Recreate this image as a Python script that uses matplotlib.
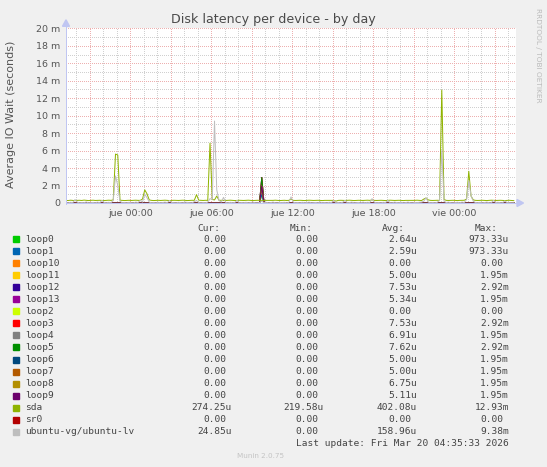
import numpy as np
import matplotlib
matplotlib.use("Agg")
import matplotlib.pyplot as plt
from matplotlib.patches import Rectangle, Polygon

# ---------------- data ----------------
title = "Disk latency per device - by day"
ylabel = "Average IO Wait (seconds)"
side_text = "RRDTOOL / TOBI OETIKER"
last_update = "Last update: Fri Mar 20 04:35:33 2026"
footer = "Munin 2.0.75"

# time axis in hours relative to Thu 00:00
t_start = -4.75          # Wed 19:15
t_end = 28.58            # Fri 04:35
sample_step_h = 1.0 / 6  # 10-minute samples
tick_hours = [0, 6, 12, 18, 24]
tick_labels = ["jue 00:00", "jue 06:00", "jue 12:00", "jue 18:00", "vie 00:00"]
ytick_vals = [0, 2, 4, 6, 8, 10, 12, 14, 16, 18, 20]
ytick_labels = ["0", "2 m", "4 m", "6 m", "8 m", "10 m", "12 m", "14 m", "16 m", "18 m", "20 m"]

# values in milliseconds
sda = [
    0.30, 0.28, 0.32, 0.30, 0.27, 0.30, 0.31, 0.29, 0.33, 0.30, 0.28, 0.30, 0.32, 0.29, 0.30, 0.31, 0.30, 0.28, 0.30, 0.32,
    0.30, 0.35, 5.60, 5.50, 0.32, 0.30, 0.28, 0.30, 0.31, 0.29, 0.30, 0.32, 0.30, 0.30, 0.45, 1.50, 1.05, 0.35, 0.30, 0.28,
    0.30, 0.31, 0.29, 0.30, 0.32, 0.30, 0.28, 0.30, 0.31, 0.30, 0.29, 0.30, 0.32, 0.30, 0.28, 0.30, 0.31, 0.30, 0.95, 0.32,
    0.30, 0.29, 0.31, 0.30, 6.85, 0.40, 0.35, 0.80, 0.30, 0.31, 0.30, 0.29, 0.30, 0.32, 0.30, 0.28, 0.30, 0.31, 0.30, 0.29,
    0.30, 0.32, 0.30, 0.28, 0.30, 0.31, 0.30, 0.30, 0.30, 0.29, 0.30, 0.31, 0.30, 0.32, 0.30, 0.28, 0.30, 0.31, 0.29, 0.30,
    0.45, 0.30, 0.29, 0.30, 0.31, 0.30, 0.28, 0.30, 0.32, 0.30, 0.29, 0.30, 0.31, 0.30, 0.28, 0.30, 0.30, 0.31, 0.29, 0.30,
    0.22, 0.30, 0.31, 0.30, 0.29, 0.30, 0.32, 0.30, 0.28, 0.30, 0.31, 0.30, 0.29, 0.30, 0.32, 0.30, 0.35, 0.30, 0.29, 0.30,
    0.31, 0.30, 0.28, 0.30, 0.32, 0.30, 0.29, 0.30, 0.31, 0.30, 0.28, 0.30, 0.30, 0.31, 0.29, 0.30, 0.32, 0.30, 0.28, 0.45,
    0.57, 0.35, 0.30, 0.29, 0.30, 0.31, 0.30, 12.93, 0.40, 0.30, 0.29, 0.30, 0.31, 0.30, 0.28, 0.30, 0.30, 0.31, 0.45, 3.63,
    0.80, 0.35, 0.30, 0.29, 0.30, 0.31, 0.30, 0.28, 0.30, 0.32, 0.30, 0.29, 0.30, 0.31, 0.30, 0.28, 0.30, 0.31, 0.29, 0.27,
]
ubuntu_lv = [
    0.05, 0.02, 0.08, 0.03, 0.40, 0.10, 0.02, 0.05, 0.03, 0.12, 0.02, 0.04, 0.06, 0.02, 0.10, 0.03, 0.30, 0.05, 0.02, 0.08,
    0.03, 0.30, 3.10, 2.00, 0.20, 0.03, 0.05, 0.02, 0.08, 0.03, 0.02, 0.10, 0.05, 0.30, 0.10, 1.00, 0.60, 0.10, 0.03, 0.05,
    0.02, 0.08, 0.03, 0.05, 0.10, 0.02, 0.30, 0.05, 0.03, 0.02, 0.08, 0.04, 0.02, 0.10, 0.05, 0.03, 0.02, 0.15, 0.30, 0.05,
    0.02, 0.05, 0.03, 0.10, 0.50, 0.40, 9.38, 1.50, 0.30, 0.10, 0.65, 0.05, 0.02, 0.08, 0.03, 0.05, 0.30, 0.02, 0.05, 0.03,
    0.08, 0.02, 0.05, 0.10, 0.03, 0.02, 0.05, 0.20, 0.03, 0.08, 0.02, 0.05, 0.10, 0.03, 0.02, 0.06, 0.04, 0.08, 0.02, 0.05,
    0.70, 0.10, 0.03, 0.05, 0.02, 0.08, 0.03, 0.05, 0.10, 0.02, 0.04, 0.06, 0.02, 0.10, 0.03, 0.05, 0.02, 0.08, 0.05, 0.30,
    0.03, 0.05, 0.02, 0.08, 0.30, 0.03, 0.05, 0.10, 0.02, 0.04, 0.06, 0.02, 0.10, 0.03, 0.08, 0.05, 0.50, 0.10, 0.03, 0.05,
    0.02, 0.08, 0.05, 0.30, 0.03, 0.02, 0.10, 0.05, 0.03, 0.08, 0.02, 0.05, 0.10, 0.03, 0.02, 0.06, 0.04, 0.08, 0.10, 0.20,
    0.60, 0.10, 0.03, 0.05, 0.02, 0.08, 0.30, 6.00, 0.20, 0.05, 0.10, 0.03, 0.02, 0.05, 0.08, 0.03, 0.10, 0.05, 0.40, 2.56,
    0.84, 0.20, 0.05, 0.03, 0.08, 0.02, 0.05, 0.10, 0.03, 0.02, 0.30, 0.05, 0.08, 0.03, 0.02, 0.25, 0.05, 0.03, 0.02, 0.025,
]

# loop devices / sr0: zero except one sample (ms) at the spike sample
loop_spike_sample = 87
series_names = ["loop0", "loop1", "loop10", "loop11", "loop12", "loop13", "loop2", "loop3",
                "loop4", "loop5", "loop6", "loop7", "loop8", "loop9", "sda", "sr0", "ubuntu-vg/ubuntu-lv"]
series_colors = ["#00CC00", "#0066B3", "#FF8000", "#FFCC00", "#330099", "#990099", "#CCFF00", "#FF0000",
                 "#808080", "#008F00", "#00487D", "#B35A00", "#B38F00", "#6B006B", "#8FB300", "#B30000", "#BEBEBE"]
spike_values = {"loop0": 0.973, "loop1": 0.973, "loop10": 0.0, "loop11": 1.95, "loop12": 2.92,
                "loop13": 1.95, "loop2": 0.0, "loop3": 2.92, "loop4": 1.95, "loop5": 2.92,
                "loop6": 1.95, "loop7": 1.95, "loop8": 1.95, "loop9": 1.95, "sr0": 0.0}

cur_vals = ["0.00", "0.00", "0.00", "0.00", "0.00", "0.00", "0.00", "0.00", "0.00", "0.00", "0.00", "0.00",
            "0.00", "0.00", "274.25u", "0.00", "24.85u"]
min_vals = ["0.00"] * 14 + ["219.58u", "0.00", "0.00"]
avg_vals = ["2.64u", "2.59u", "0.00", "5.00u", "7.53u", "5.34u", "0.00", "7.53u", "6.91u", "7.62u", "5.00u",
            "5.00u", "6.75u", "5.11u", "402.08u", "0.00", "158.96u"]
max_vals = ["973.33u", "973.33u", "0.00", "1.95m", "2.92m", "1.95m", "0.00", "2.92m", "1.95m", "2.92m", "1.95m",
            "1.95m", "1.95m", "1.95m", "12.93m", "0.00", "9.38m"]

# ---------------- figure ----------------
W, H = 547, 467
DPI = 100
fig = plt.figure(figsize=(W / DPI, H / DPI), dpi=DPI, facecolor="#F0F0F0")


def fx(x):
    return x / W


def fy(y):
    return 1 - y / H


L, R, T, B = 66, 516, 28.3, 203
ax = fig.add_axes([fx(L), fy(B), (R - L) / W, (B - T) / H])
ax.set_facecolor("white")
ax.set_xlim(t_start, t_end)
ax.set_ylim(0, 20)
for s in ax.spines.values():
    s.set_visible(False)

# grid (dotted, 1px on / 1px off, phase shifted to pixel boundaries)
lw1 = 72 / DPI
dot = (0.5, (1, 1))
major_col, minor_col = "#EDB0B0", "#D0D0D0"
for h in np.arange(-4, 29, 1):
    major = (h % 3 == 0)
    ax.axvline(h, color=major_col if major else minor_col, lw=lw1, ls=dot,
               zorder=0.5 if major else 0)
for v in range(1, 21):
    major = (v % 2 == 0)
    ax.axhline(v, color=major_col if major else minor_col, lw=lw1, ls=dot,
               zorder=0.5 if major else 0)

n = len(sda)
t = t_start + np.arange(n) * sample_step_h
for i, (name, col) in enumerate(zip(series_names, series_colors)):
    if name == "sda":
        vals = np.array(sda)
    elif name == "ubuntu-vg/ubuntu-lv":
        vals = np.array(ubuntu_lv)
    else:
        vals = np.zeros(n)
        vals[loop_spike_sample] = spike_values[name]
    ax.plot(t, vals, color=col, lw=lw1, zorder=2 + i * 0.01)

ax.set_xticks(tick_hours)
ax.set_xticklabels(tick_labels)
ax.set_yticks(ytick_vals)
ax.set_yticklabels(ytick_labels)
ax.tick_params(axis="both", length=0, labelsize=6.8, colors="#555555")
ax.tick_params(axis="x", pad=4)
ax.tick_params(axis="y", pad=4.3)

# axis lines with arrows
axis_col = "#C0C6F2"
fig.add_artist(plt.Line2D([fx(L), fx(R + 1)], [fy(B), fy(B)], color=axis_col, lw=lw1, transform=fig.transFigure))
fig.add_artist(plt.Line2D([fx(L), fx(L)], [fy(B + 1), fy(T - 2)], color=axis_col, lw=lw1, transform=fig.transFigure))
fig.add_artist(Polygon([[fx(R + 1), fy(B - 3.5)], [fx(R + 1), fy(B + 3.5)], [fx(R + 7.5), fy(B)]],
                       closed=True, color=axis_col, transform=fig.transFigure))
fig.add_artist(Polygon([[fx(L - 3.5), fy(T - 2)], [fx(L + 3.5), fy(T - 2)], [fx(L), fy(T - 8.5)]],
                       closed=True, color=axis_col, transform=fig.transFigure))

# titles
fig.text(fx(273.5), fy(19), title, ha="center", va="center", fontsize=9.1, color="#4A4A4A")
fig.text(fx(11), fy(114), ylabel, rotation=90, ha="center", va="center", fontsize=8, color="#555555")
fig.text(fx(538), fy(8), side_text, rotation=270, ha="center", va="top", fontsize=5.3, color="#BBBBBB")

# legend
mono = "DejaVu Sans Mono"
lfs = 6.8
cw = 5.7
col_right = [231.7, 324.0, 416.7, 509.0]
headers = ["Cur:", "Min:", "Avg:", "Max:"]
for hx, htxt in zip(col_right, headers):
    fig.text(fx(hx - 2 * cw), fy(228.3), htxt, ha="right", va="center", fontsize=lfs, family=mono, color="#444444")
row0, dy = 239.3, 12.02
for i, name in enumerate(series_names):
    y = row0 + i * dy
    fig.add_artist(Rectangle((fx(13.3), fy(y + 3)), 6 / W, 6 / H, color=series_colors[i], transform=fig.transFigure))
    fig.text(fx(25), fy(y), name, ha="left", va="center", fontsize=lfs, family=mono, color="#444444")
    for cx, vals in zip(col_right, [cur_vals, min_vals, avg_vals, max_vals]):
        s = vals[i]
        xr = cx if s[-1].isalpha() else cx - cw
        fig.text(fx(xr), fy(y), s, ha="right", va="center", fontsize=lfs, family=mono, color="#444444")

fig.text(fx(509), fy(443.7), last_update, ha="right", va="center", fontsize=lfs, family=mono, color="#444444")
fig.text(fx(261), fy(455.7), footer, ha="center", va="center", fontsize=5.2, color="#C4C4C4")

fig.savefig("out.png", dpi=DPI, facecolor=fig.get_facecolor())
